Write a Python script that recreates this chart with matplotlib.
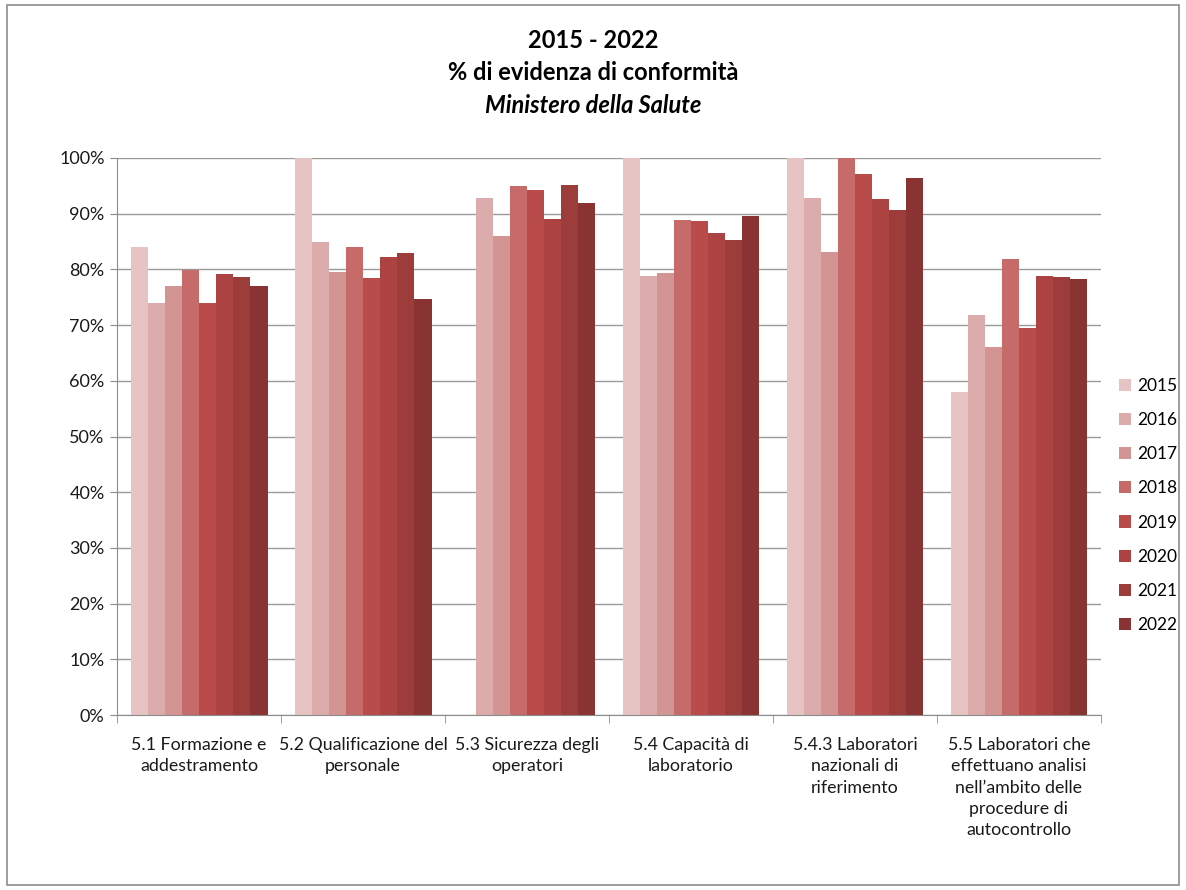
import matplotlib.pyplot as plt
import numpy as np
from matplotlib.patches import Rectangle

categories = [
    "5.1 Formazione e\naddestramento",
    "5.2 Qualificazione del\npersonale",
    "5.3 Sicurezza degli\noperatori",
    "5.4 Capacità di\nlaboratorio",
    "5.4.3 Laboratori\nnazionali di\nriferimento",
    "5.5 Laboratori che\neffettuano analisi\nnell’ambito delle\nprocedure di\nautocontrollo",
]
years = ["2015", "2016", "2017", "2018", "2019", "2020", "2021", "2022"]

# % per anno, una lista per categoria
v_2015 = [84.0, 100.0, 0.0, 100.0, 100.0, 57.9]
v_2016 = [73.9, 84.9, 92.8, 78.9, 92.8, 71.8]
v_2017 = [77.1, 79.5, 86.0, 79.4, 83.1, 66.1]
v_2018 = [79.8, 84.0, 94.9, 88.9, 100.0, 81.8]
v_2019 = [74.0, 78.5, 94.3, 88.7, 97.1, 69.4]
v_2020 = [79.2, 82.3, 89.0, 86.5, 92.6, 78.8]
v_2021 = [78.6, 82.9, 95.1, 85.2, 90.7, 78.6]
v_2022 = [77.0, 74.7, 91.9, 89.5, 96.4, 78.3]
values = [v_2015, v_2016, v_2017, v_2018, v_2019, v_2020, v_2021, v_2022]

colors = ["#E6C4C4", "#DCACAC", "#D39494", "#C76A6A",
          "#B94B4A", "#AC4342", "#9C3C3B", "#893433"]

plt.rcParams['font.family'] = ['Lato', 'DejaVu Sans']

fig = plt.figure(figsize=(11.86, 8.9), dpi=100)
fig.patches.append(Rectangle((0.006, 0.006), 0.988, 0.988, transform=fig.transFigure,
                             fill=False, edgecolor="#8C8C8C", linewidth=1.2))

ax = fig.add_axes([0.0987, 0.1966, 0.8296, 0.6259])

n = len(years)
gap = 1.58
w = 1.0 / (n + gap)
x = np.arange(len(categories))
for i, yr in enumerate(years):
    offs = (i - (n - 1) / 2) * w
    ax.bar(x + offs, values[i], width=w, color=colors[i], label=yr, linewidth=0)

ax.set_xlim(-0.5, len(categories) - 0.5)
ax.set_ylim(0, 100)
ax.set_yticks(np.arange(0, 101, 10))
ax.set_yticklabels([f"{t}%" for t in range(0, 101, 10)], fontsize=13, color="#1a1a1a")
ax.yaxis.grid(True, color="#9A9A9A", linewidth=1)
ax.set_axisbelow(True)

ax.set_xticks(x)
ax.set_xticklabels(categories, fontsize=12.8, color="#1a1a1a", linespacing=1.4)
ax.tick_params(axis="x", length=0, pad=16)
ax.tick_params(axis="y", length=5, color="#8C8C8C", pad=4)
ax.set_xticks(np.arange(-0.5, len(categories)), minor=True)
ax.tick_params(axis="x", which="minor", length=6, color="#8C8C8C")

for s in ["top", "right"]:
    ax.spines[s].set_visible(False)
for s in ["left", "bottom"]:
    ax.spines[s].set_color("#8C8C8C")

fig.text(0.5, 0.955, "2015 - 2022", ha="center", va="center",
         fontsize=17, fontweight="bold")
fig.text(0.5, 0.918, "% di evidenza di conformità", ha="center", va="center",
         fontsize=17, fontweight="bold")
fig.text(0.5, 0.882, "Ministero della Salute", ha="center", va="center",
         fontsize=17, fontweight="bold", style="italic")

leg = fig.legend(loc="center left", bbox_to_anchor=(0.93, 0.432), frameon=False,
                 fontsize=12.5, handlelength=0.7, handleheight=0.7, handletextpad=0.4,
                 labelspacing=1.05)

fig.savefig("out.png", dpi=100)
